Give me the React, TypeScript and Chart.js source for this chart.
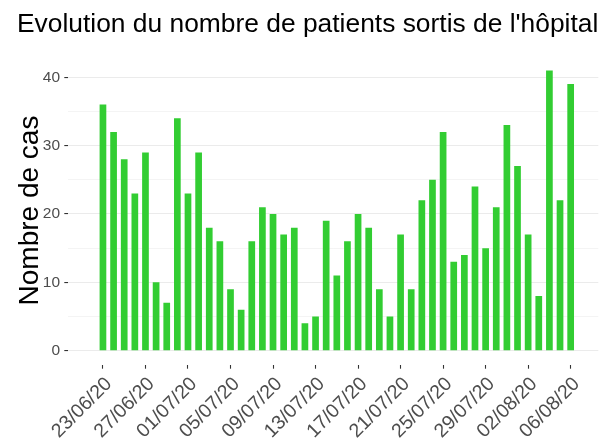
import React, { useEffect, useRef } from "react";
import { Chart, registerables } from "chart.js";

Chart.register(...registerables);

const dates: string[] = [
  "23/06/20", "24/06/20", "25/06/20", "26/06/20", "27/06/20", "28/06/20", "29/06/20", "30/06/20",
  "01/07/20", "02/07/20", "03/07/20", "04/07/20", "05/07/20", "06/07/20", "07/07/20", "08/07/20",
  "09/07/20", "10/07/20", "11/07/20", "12/07/20", "13/07/20", "14/07/20", "15/07/20", "16/07/20",
  "17/07/20", "18/07/20", "19/07/20", "20/07/20", "21/07/20", "22/07/20", "23/07/20", "24/07/20",
  "25/07/20", "26/07/20", "27/07/20", "28/07/20", "29/07/20", "30/07/20", "31/07/20",
  "01/08/20", "02/08/20", "03/08/20", "04/08/20", "05/08/20", "06/08/20",
];

const patientsSortis: number[] = [
  36, 32, 28, 23, 29, 10, 7, 34, 23, 29, 18, 16, 9, 6, 16, 21, 20, 17, 18, 4, 5, 19, 11,
  16, 20, 18, 9, 5, 17, 9, 22, 25, 32, 13, 14, 24, 15, 21, 33, 27, 17, 8, 41, 22, 39,
];

const labelEvery = 4;
const yTicks: number[] = [0, 10, 20, 30, 40];

const titleText = "Evolution du nombre de patients sortis de l'hôpital";
const yTitle = "Nombre de cas";

export default function App() {
  const ref = useRef<HTMLCanvasElement | null>(null);

  useEffect(() => {
    if (!ref.current) return;
    Chart.defaults.font.family = "'Liberation Sans', Arial, Helvetica, sans-serif";
    const chart = new Chart(ref.current, {
      type: "bar",
      data: {
        datasets: [
          {
            label: "Sortis",
            data: patientsSortis.map((v, i) => ({ x: i, y: v })),
            backgroundColor: "#32CD32",
            borderWidth: 0,
            barPercentage: 0.63,
            categoryPercentage: 1,
          },
        ],
      },
      options: {
        animation: false,
        responsive: false,
        devicePixelRatio: 1,
        layout: { padding: { left: 17, right: 6.7, top: 0, bottom: 0 } },
        plugins: {
          legend: { display: false },
          tooltip: { enabled: false },
          title: {
            display: true,
            text: titleText,
            color: "#000000",
            align: "center",
            font: { size: 26.5, weight: "normal" },
            padding: { top: 9, bottom: 15.6 },
          },
        },
        scales: {
          x: {
            type: "linear",
            min: -3.26,
            max: 46.6,
            offset: false,
            afterBuildTicks: (axis: any) => {
              const t: any[] = [];
              for (let i = 0; i < dates.length; i += labelEvery) t.push({ value: i });
              axis.ticks = t;
            },
            afterFit: (scale: any) => {
              scale.height = 73.3;
            },
            grid: {
              display: true,
              offset: false,
              drawOnChartArea: false,
              drawTicks: true,
              tickLength: 4,
              tickColor: "#333333",
              tickWidth: 1.1,
            },
            border: { display: false },
            ticks: {
              autoSkip: false,
              minRotation: 45,
              maxRotation: 45,
              padding: 4,
              labelOffset: 6,
              color: "#4D4D4D",
              font: { size: 19.5 },
              callback: (v: any) => dates[Math.round(Number(v))] ?? "",
            },
          },
          y: {
            type: "linear",
            min: -2.05,
            max: 43.05,
            afterFit: (scale: any) => {
              scale.width = 51.3;
            },
            grid: {
              color: "#EBEBEB",
              lineWidth: (ctx: any) => (ctx.tick && yTicks.includes(ctx.tick.value) ? 1.1 : 0.55),
              drawTicks: true,
              tickLength: 4,
              tickWidth: 1.1,
              tickColor: (ctx: any) =>
                ctx.tick && yTicks.includes(ctx.tick.value) ? "#333333" : "rgba(0,0,0,0)",
            },
            border: { display: false },
            ticks: {
              stepSize: 5,
              includeBounds: false,
              padding: 4.3,
              color: "#4D4D4D",
              font: { size: 15.5 },
              callback: (v: any) => (yTicks.includes(Number(v)) ? String(v) : ""),
            },
            title: {
              display: true,
              text: yTitle,
              color: "#000000",
              font: { size: 28, lineHeight: 1 },
              padding: { top: -1, bottom: 0 },
            },
          },
        },
      },
    } as any);
    return () => chart.destroy();
  }, []);

  return (
    <canvas
      ref={ref}
      width={605}
      height={438}
      style={{ position: "absolute", left: 0, top: 0, display: "block", width: 605, height: 438 }}
    />
  );
}
